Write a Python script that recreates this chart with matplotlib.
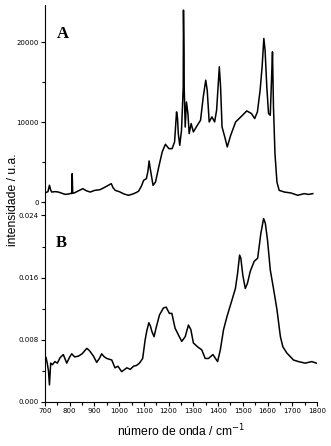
import matplotlib
matplotlib.use("Agg")
import matplotlib.pyplot as plt
from matplotlib.ticker import MultipleLocator

# Spectrum A (Raman-like), wavenumber / intensity
wn_a = [700, 705, 712, 718, 723, 727, 740, 754, 768, 781, 795, 806, 808, 810, 812, 818, 835, 853, 868,
        883, 900, 923, 945, 962, 968, 975, 984, 1000, 1020, 1038, 1055, 1070, 1079, 1090, 1099, 1110,
        1116, 1121, 1125, 1129, 1137, 1147, 1160, 1174, 1187, 1201, 1214, 1224, 1232, 1236, 1239,
        1245, 1252, 1256, 1259, 1260, 1262, 1263, 1267, 1272, 1278, 1283, 1291, 1300, 1316, 1329,
        1340, 1350, 1356, 1364, 1375, 1386, 1394, 1405, 1410, 1416, 1427, 1437, 1451, 1471, 1492,
        1516, 1535, 1548, 1559, 1570, 1578, 1585, 1590, 1597, 1604, 1611, 1616, 1620, 1624, 1630,
        1638, 1647, 1668, 1695, 1722, 1749, 1765, 1783]
int_a = [1150, 1200, 1300, 2100, 1500, 1250, 1300, 1250, 1100, 960, 1000, 1100, 1050, 3560, 1100, 1130,
         1400, 1670, 1400, 1250, 1450, 1550, 1900, 2200, 2300, 1800, 1460, 1300, 1000, 840, 1000, 1200,
         1380, 2000, 2720, 2930, 3800, 5150, 4300, 3560, 2090, 2510, 4390, 6280, 7240, 6690, 6690,
         7530, 11300, 10500, 8580, 7110, 9000, 12000, 14400, 24060, 19000, 14200, 9400, 12550, 11090,
         8580, 9830, 8790, 9620, 10250, 13180, 15270, 14020, 10040, 10670, 10040, 11510, 16950, 14430,
         9410, 8160, 6900, 8370, 10040, 10670, 11420, 11090, 10460, 11300, 14020, 16950, 20500, 19040,
         14430, 11090, 10880, 15270, 18830, 11920, 6070, 2510, 1460, 1250, 1130, 840, 1050, 950, 1050]

# Spectrum B (absorbance-like)
wn_b = [700, 705, 709, 714, 718, 723, 730, 740, 750, 761, 774, 788, 800, 808, 820, 835, 850, 869, 880,
        896, 909, 920, 929, 940, 950, 970, 983, 995, 1010, 1031, 1045, 1058, 1070, 1082, 1095, 1105,
        1112, 1120, 1126, 1132, 1141, 1149, 1163, 1179, 1190, 1203, 1213, 1226, 1240, 1253, 1267, 1280,
        1290, 1300, 1317, 1334, 1348, 1361, 1379, 1398, 1409, 1422, 1436, 1456, 1470, 1479, 1487, 1492,
        1500, 1510, 1519, 1530, 1546, 1560, 1573, 1584, 1591, 1600, 1611, 1624, 1638, 1652, 1662, 1678,
        1705, 1725, 1752, 1779, 1797]
abs_b = [0.0060, 0.0056, 0.0050, 0.0040, 0.0022, 0.0050, 0.0048, 0.0052, 0.0050, 0.0057, 0.0061, 0.0050,
         0.0058, 0.0062, 0.0058, 0.0059, 0.0062, 0.0069, 0.0066, 0.0059, 0.0051, 0.0056, 0.0062, 0.0058,
         0.0056, 0.0054, 0.0044, 0.0046, 0.0039, 0.0044, 0.0042, 0.0046, 0.0047, 0.0050, 0.0056, 0.0080,
         0.0092, 0.0102, 0.0098, 0.0091, 0.0084, 0.0095, 0.0112, 0.0121, 0.0122, 0.0114, 0.0114, 0.0095,
         0.0086, 0.0078, 0.0084, 0.0099, 0.0093, 0.0076, 0.0071, 0.0067, 0.0056, 0.0056, 0.0061, 0.0052,
         0.0067, 0.0093, 0.0110, 0.0131, 0.0146, 0.0166, 0.0189, 0.0185, 0.0163, 0.0146, 0.0153, 0.0168,
         0.0181, 0.0185, 0.0217, 0.0236, 0.0230, 0.0208, 0.0170, 0.0146, 0.0119, 0.0084, 0.0071, 0.0063,
         0.0054, 0.0052, 0.0050, 0.0052, 0.0050]

xticks = list(range(700, 1801, 100))
yticks_a = [0, 10000, 20000]
yticks_b = [0.000, 0.008, 0.016, 0.024]
ylabels_b = ['0.000', '0.008', '0.016', '0.024']

fig = plt.figure(figsize=(3.31, 4.46), dpi=100)
L, W = 45 / 331, 272 / 331
axA = fig.add_axes([L, 1 - 203 / 446, W, 198 / 446])
axB = fig.add_axes([L, 1 - 402 / 446, W, 199 / 446])

for ax in (axA, axB):
    ax.spines['top'].set_visible(False)
    ax.spines['right'].set_visible(False)
    ax.set_xlim(700, 1800)
    ax.tick_params(axis='both', which='major', direction='out', length=3, width=0.8, labelsize=5, pad=1.5)
    ax.tick_params(axis='both', which='minor', direction='out', length=2, width=0.8)

axA.plot(wn_a, int_a, color='black', lw=1.1)
axA.set_ylim(-125, 24700)
axA.set_yticks(yticks_a)
axA.yaxis.set_minor_locator(MultipleLocator(5000))
axA.spines['bottom'].set_visible(False)
axA.tick_params(axis='x', which='both', bottom=False, labelbottom=False)
axA.text(0.044, 0.856, 'A', transform=axA.transAxes, fontsize=12, fontweight='bold',
         family='Liberation Serif', va='center', ha='left')

axB.plot(wn_b, abs_b, color='black', lw=1.1)
axB.set_ylim(0, 0.0256)
axB.set_yticks(yticks_b)
axB.set_yticklabels(ylabels_b)
axB.yaxis.set_minor_locator(MultipleLocator(0.004))
axB.set_xticks(xticks)
axB.xaxis.set_minor_locator(MultipleLocator(50))
axB.text(0.04, 0.80, 'B', transform=axB.transAxes, fontsize=12, fontweight='bold',
         family='Liberation Serif', va='center', ha='left')
axB.set_xlabel('número de onda / cm$^{-1}$', fontsize=8.7, family='Liberation Sans', labelpad=6)

fig.text(13 / 331, 1 - 200 / 446, 'intensidade / u.a.', rotation=90, fontsize=8.7,
         family='Liberation Sans', ha='center', va='center')

fig.savefig('out.png', dpi=100)
